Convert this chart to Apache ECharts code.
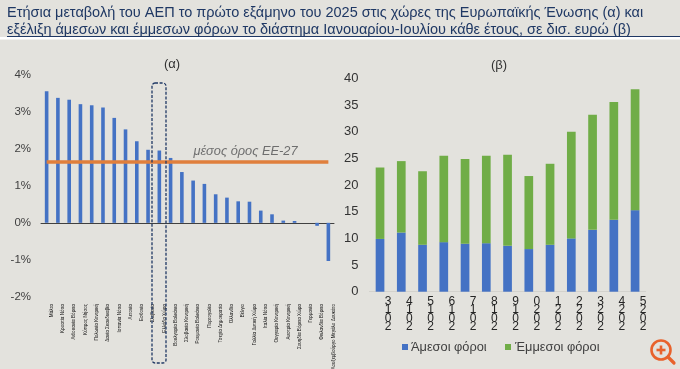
<!DOCTYPE html>
<html><head><meta charset="utf-8">
<style>html,body{margin:0;padding:0;background:#e3e2dd}#c{width:680px;height:369px}</style>
<script src="https://cdn.jsdelivr.net/npm/echarts@6/dist/echarts.min.js"></script>
</head><body><div id="c"></div>
<script>
const countries = ['Μάλτα','Κροατία Νότια','Λιθουανία Βόρεια','Κύπρος Νήσος','Πολωνία Κεντρική','Δανία Σκανδιναβία','Ισπανία Νότια','Λετονία','Εσθονία','Σλοβενία','Ελλάδα Χώρα','Βουλγαρία Βαλκάνια','Σλοβακία Κεντρική','Ρουμανία Βαλκάνια','Πορτογαλία','Τσεχία Δημοκρατία','Ολλανδία','Βέλγιο','Γαλλία Δυτική Χώρα','Ιταλία Νότια','Ουγγαρία Κεντρική','Αυστρία Κεντρική','Σουηδία Βόρεια Χώρα','Γερμανία','Φινλανδία Βόρεια','Λουξεμβούργο Μεγάλο Δουκάτο'];
const gdpChange = [3.55,3.37,3.32,3.2,3.17,3.11,2.83,2.52,2.2,1.97,1.95,1.75,1.37,1.14,1.05,0.77,0.68,0.58,0.57,0.33,0.23,0.06,0.05,0,-0.08,-1.03];
const euAverage = countries.map(() => 1.64);
const years = ['2013','2014','2015','2016','2017','2018','2019','2020','2021','2022','2023','2024','2025'];
const directTaxes = [9.9,11.1,8.8,9.3,9.0,9.1,8.6,8.0,8.8,10.0,11.6,13.5,15.3];
const indirectTaxes = [13.4,13.4,13.8,16.2,15.9,16.4,17.1,13.7,15.2,20.0,21.6,22.1,22.7];
const pctTicks = v => v + '%';

const FONT = '"Liberation Sans", Arial, sans-serif';
const chart = echarts.init(document.getElementById('c'), null, {renderer:'canvas'});
chart.setOption({
  backgroundColor:'#e3e2dd',
  animation:false,
  textStyle:{fontFamily:FONT},
  title:{
    text:'Ετήσια μεταβολή του ΑΕΠ το πρώτο εξάμηνο του 2025 στις χώρες της Ευρωπαϊκής Ένωσης (α) και\nεξέλιξη άμεσων και έμμεσων φόρων το διάστημα Ιανουαρίου-Ιουλίου κάθε έτους, σε δισ. ευρώ (β)',
    left:2, top:-1,
    textStyle:{fontFamily:FONT,fontSize:14.5,fontWeight:'normal',color:'#1f3864',lineHeight:17.5}
  },
  grid:[
    {left:41,top:74.5,width:293,height:222.5,outerBoundsMode:'none'},
    {left:369.4,top:78.5,width:276.3,height:213.2,outerBoundsMode:'none'}
  ],
  xAxis:[
    {type:'category',gridIndex:0,data:countries,position:'bottom',
     axisLine:{show:false,onZero:false},axisTick:{show:false},
     axisLabel:{interval:0,rotate:90,margin:7,fontSize:4.6,color:'#111',verticalAlign:'top',lineHeight:10,hideOverlap:false}},
    {type:'category',gridIndex:0,data:countries,
     axisLine:{show:true,onZero:true,lineStyle:{color:'#404040',width:1}},axisTick:{show:false},axisLabel:{show:false}},
    {type:'category',gridIndex:1,data:years,
     axisLine:{lineStyle:{color:'#d3d2cd',width:1}},axisTick:{show:false},
     axisLabel:{interval:0,margin:6,fontSize:12,color:'#262626',lineHeight:8.2,padding:[0,0,0,16],
       formatter:v=>v.split('').reverse().join('\n')}}
  ],
  yAxis:[
    {type:'value',gridIndex:0,min:-2,max:4,interval:1,splitLine:{show:false},axisLine:{show:false},axisTick:{show:false},
     axisLabel:{formatter:pctTicks,margin:10,fontSize:11.5,color:'#404040'}},
    {type:'value',gridIndex:1,min:0,max:40,interval:5,splitLine:{show:false},axisLine:{show:false},axisTick:{show:false},
     axisLabel:{margin:11,fontSize:13,color:'#333333'}}
  ],
  legend:{show:false},
  series:[
    {type:'bar',name:'ΑΕΠ',xAxisIndex:0,yAxisIndex:0,data:gdpChange,barWidth:3.6,itemStyle:{color:'#4472c4'}},
    {type:'line',name:'μέσος όρος ΕΕ-27',xAxisIndex:0,yAxisIndex:0,data:euAverage,symbol:'none',z:5,
     lineStyle:{color:'#e07f3c',width:3.5}},
    {type:'bar',name:'Άμεσοι φόροι',xAxisIndex:2,yAxisIndex:1,stack:'t',data:directTaxes,barWidth:8.7,itemStyle:{color:'#4472c4'}},
    {type:'bar',name:'Έμμεσοι φόροι',xAxisIndex:2,yAxisIndex:1,stack:'t',data:indirectTaxes,barWidth:8.7,itemStyle:{color:'#70ad47'}}
  ],
  graphic:[
    {type:'rect',shape:{x:0,y:37,width:680,height:2.5},style:{fill:'#ffffff'},silent:true},
    {type:'line',shape:{x1:7,y1:36.5,x2:680,y2:36.5},style:{stroke:'#1f3864',lineWidth:1.2},silent:true},
    {type:'text',style:{x:172,y:64,text:'(α)',fill:'#333',font:'13px '+FONT,align:'center',verticalAlign:'middle'}},
    {type:'text',style:{x:499,y:65,text:'(β)',fill:'#333',font:'13px '+FONT,align:'center',verticalAlign:'middle'}},
    {type:'text',z:10,style:{x:245.5,y:151.5,text:'μέσος όρος ΕΕ-27',fill:'#6e6e6e',font:'italic 12.8px '+FONT,align:'center',verticalAlign:'middle'}},
    {type:'rect',z:10,shape:{x:152,y:83,width:14,height:280,r:3},style:{fill:'none',stroke:'#1f3864',lineWidth:1.3,lineDash:[3,1.6]}},
    {type:'rect',shape:{x:402,y:344,width:6,height:6},style:{fill:'#4472c4'}},
    {type:'text',style:{x:411,y:347.5,text:'Άμεσοι φόροι',fill:'#404040',font:'12.8px '+FONT,verticalAlign:'middle'}},
    {type:'rect',shape:{x:505,y:344,width:6,height:6},style:{fill:'#70ad47'}},
    {type:'text',style:{x:515,y:347.5,text:'Έμμεσοι φόροι',fill:'#404040',font:'12.8px '+FONT,verticalAlign:'middle'}},
    {type:'circle',shape:{cx:661,cy:350,r:9.5},style:{fill:'none',stroke:'#e8622c',lineWidth:2.6}},
    {type:'line',shape:{x1:668,y1:357,x2:674,y2:363},style:{stroke:'#e8622c',lineWidth:3.2,lineCap:'round'}},
    {type:'line',shape:{x1:656.5,y1:350,x2:665.5,y2:350},style:{stroke:'#e8622c',lineWidth:2.6}},
    {type:'line',shape:{x1:661,y1:345.5,x2:661,y2:354.5},style:{stroke:'#e8622c',lineWidth:2.6}}
  ]
});
</script></body></html>
